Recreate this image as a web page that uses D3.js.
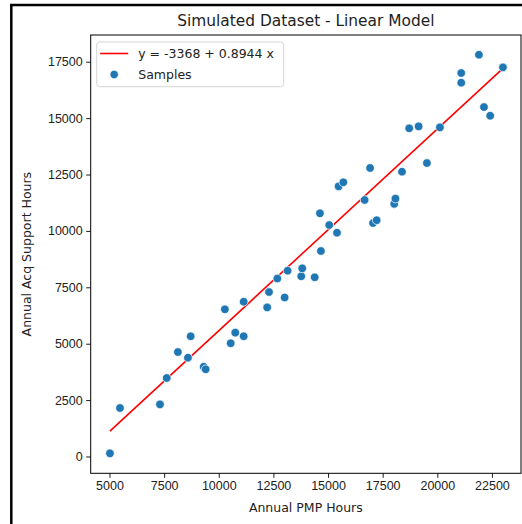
<!DOCTYPE html>
<html>
<head>
<meta charset="utf-8">
<script src="https://cdn.jsdelivr.net/npm/d3@7"></script>
<style>
  html, body { margin: 0; padding: 0; background: #fff; }
  svg { display: block; font-family: "DejaVu Sans", sans-serif; }
</style>
</head>
<body>
<svg id="chart" width="522" height="524"></svg>
<script>
// samples
const pmpHours = [
  5020, 5480, 7310, 7620, 8130, 8590, 8715, 9310, 9400, 10280,
  10545, 10755, 11140, 11140, 12215, 12300, 13015, 12680, 13150, 13775,
  13820, 14390, 14675, 14630, 15055, 15410, 15485, 15700, 16675, 16925,
  17060, 17225, 18030, 18085, 18385, 19525, 18715, 19145, 20120, 21095,
  21095, 21905, 22135, 22420, 23005
];
const acqHours = [
  140, 2150, 2310, 3480, 4630, 4380, 5330, 3980, 3865, 6525,
  5020, 5490, 5330, 6860, 6610, 7290, 7050, 7890, 8235, 7990,
  8340, 7945, 9110, 10780, 10260, 9920, 11975, 12155, 11370, 12790,
  10350, 10475, 11200, 11430, 12625, 13010, 14550, 14635, 14590, 16570,
  17000, 17810, 15490, 15105, 17250
];
const fit = { intercept: -3368, slope: 0.8944 };
const xTicks = [5000, 7500, 10000, 12500, 15000, 17500, 20000, 22500];
const yTicks = [0, 2500, 5000, 7500, 10000, 12500, 15000, 17500];
const xLimits = [4140, 23830];
const yLimits = [-745, 18685];

class FitScatter {
  constructor(option) {
    Object.assign(this, {
      el: "#chart",
      width: 522,
      height: 524,
      margin: { top: 35, left: 90.7, right: 1, bottom: 50.7 },
      dotColor: "#1f77b4",
      lineColor: "#ff0000",
      textColor: "#222"
    }, option);
    this.init();
  }

  init() {
    this.svg = d3.select(this.el);
    this.svg.html("");
    this.innerW = this.width - this.margin.left - this.margin.right;
    this.innerH = this.height - this.margin.top - this.margin.bottom;
    this.data = pmpHours.map((x, i) => ({ x: x, y: acqHours[i] }));

    this.addFrame();
    this.group = this.svg.append("g")
      .attr("transform", `translate(${this.margin.left},${this.margin.top})`);
    this.addXAxis();
    this.addYAxis();
    this.addFitLine();
    this.addPoints();
    this.addSpines();
    this.addLegend();
    this.addLabels();
  }

  addFrame() {
    this.svg.append("path")
      .attr("d", `M11.3,${this.height} L11.3,5 L${this.width},5`)
      .attr("fill", "none")
      .attr("stroke", "#000")
      .attr("stroke-width", 2.5);
  }

  styleAxis(g) {
    g.select(".domain").remove();
    g.selectAll(".tick line").attr("stroke", "#000").attr("stroke-width", 0.9);
    g.selectAll(".tick text")
      .attr("fill", this.textColor)
      .style("font-size", "12.5px");
  }

  addXAxis() {
    this.xScale = d3.scaleLinear().domain(xLimits).range([0, this.innerW]);
    this.group.append("g")
      .attr("transform", `translate(0,${this.innerH})`)
      .call(d3.axisBottom(this.xScale).tickValues(xTicks).tickFormat(d3.format("d"))
        .tickSize(4.5).tickPadding(3.5))
      .call(g => this.styleAxis(g));
  }

  addYAxis() {
    this.yScale = d3.scaleLinear().domain(yLimits).range([this.innerH, 0]);
    this.group.append("g")
      .call(d3.axisLeft(this.yScale).tickValues(yTicks).tickFormat(d3.format("d"))
        .tickSize(4.5).tickPadding(3.5))
      .call(g => this.styleAxis(g));
  }

  addFitLine() {
    const ext = d3.extent(pmpHours);
    const line = d3.line()
      .x(d => this.xScale(d))
      .y(d => this.yScale(fit.intercept + fit.slope * d));
    this.group.append("path")
      .datum(ext)
      .attr("d", line)
      .attr("fill", "none")
      .attr("stroke", this.lineColor)
      .attr("stroke-width", 1.6);
  }

  addPoints() {
    this.group.selectAll(".dot")
      .data(this.data)
      .enter()
      .append("circle")
      .attr("class", "dot")
      .attr("cx", d => this.xScale(d.x))
      .attr("cy", d => this.yScale(d.y))
      .attr("r", 4.3)
      .attr("fill", this.dotColor)
      .attr("stroke", "#fff")
      .attr("stroke-width", 0.7);
  }

  addSpines() {
    this.group.append("rect")
      .attr("width", this.innerW)
      .attr("height", this.innerH)
      .attr("fill", "none")
      .attr("stroke", "#000")
      .attr("stroke-width", 1);
  }

  addLegend() {
    const lg = this.group.append("g").attr("transform", "translate(6,7)");
    lg.append("rect")
      .attr("width", 187)
      .attr("height", 44.7)
      .attr("rx", 3)
      .attr("fill", "#fff")
      .attr("fill-opacity", 0.8)
      .attr("stroke", "#d6d6d6")
      .attr("stroke-width", 1);
    lg.append("line")
      .attr("x1", 3.5).attr("x2", 31.5)
      .attr("y1", 11.5).attr("y2", 11.5)
      .attr("stroke", this.lineColor)
      .attr("stroke-width", 1.6);
    lg.append("circle")
      .attr("cx", 17.5).attr("cy", 32.5).attr("r", 4.2)
      .attr("fill", this.dotColor)
      .attr("stroke", "#fff")
      .attr("stroke-width", 0.7);
    const labels = [`y = ${fit.intercept} + ${fit.slope} x`, "Samples"];
    lg.selectAll(".lgtext")
      .data(labels)
      .enter()
      .append("text")
      .attr("class", "lgtext")
      .attr("x", 41.5)
      .attr("y", (d, i) => 11.5 + i * 21)
      .attr("dy", "0.35em")
      .attr("fill", this.textColor)
      .style("font-size", "12.5px")
      .text(d => d);
  }

  addLabels() {
    const cx = this.margin.left + this.innerW / 2;
    this.svg.append("text")
      .attr("x", cx)
      .attr("y", 21)
      .attr("dy", "0.35em")
      .attr("text-anchor", "middle")
      .attr("fill", this.textColor)
      .style("font-size", "15.4px")
      .text("Simulated Dataset - Linear Model");
    this.svg.append("text")
      .attr("x", cx)
      .attr("y", 508)
      .attr("dy", "0.35em")
      .attr("text-anchor", "middle")
      .attr("fill", this.textColor)
      .style("font-size", "12.5px")
      .text("Annual PMP Hours");
    this.svg.append("text")
      .attr("transform", `translate(27,${this.margin.top + this.innerH / 2}) rotate(-90)`)
      .attr("dy", "0.35em")
      .attr("text-anchor", "middle")
      .attr("fill", this.textColor)
      .style("font-size", "12.5px")
      .text("Annual Acq Support Hours");
  }
}

new FitScatter({});
</script>
</body>
</html>
